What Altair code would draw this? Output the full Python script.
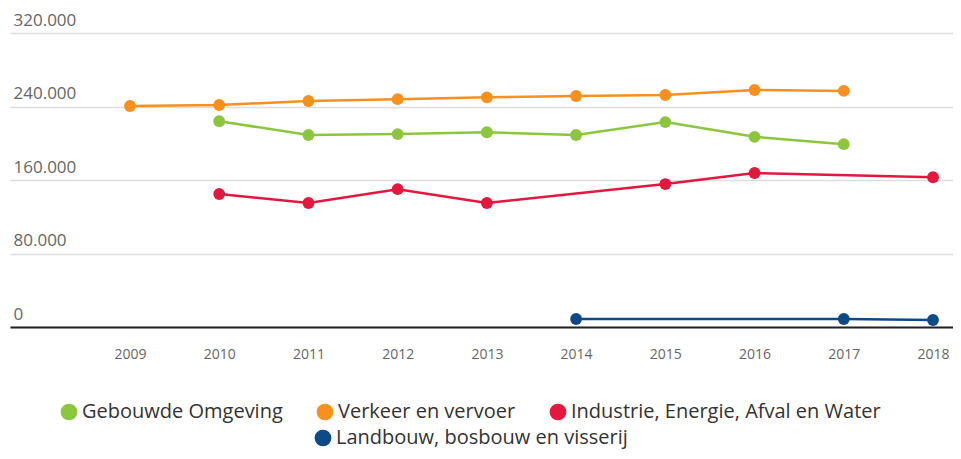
import altair as alt
import pandas as pd

years_all = [2009, 2010, 2011, 2012, 2013, 2014, 2015, 2016, 2017, 2018]

series_names = [
    "Gebouwde Omgeving",
    "Verkeer en vervoer",
    "Industrie, Energie, Afval en Water",
    "Landbouw, bosbouw en visserij",
]
colors = ["#8cc63f", "#f7901e", "#e4173e", "#0d4a87"]

gebouwde_years = [2010, 2011, 2012, 2013, 2014, 2015, 2016, 2017]
gebouwde_vals = [224000, 209000, 210000, 212000, 209000, 223000, 207000, 199000]

verkeer_years = [2009, 2010, 2011, 2012, 2013, 2014, 2015, 2016, 2017]
verkeer_vals = [240500, 241600, 246000, 248000, 250000, 251400, 252500, 258000, 257000]

industrie_years = [2010, 2011, 2012, 2013, 2015, 2016, 2018]
industrie_vals = [144800, 135000, 150000, 135000, 155600, 167600, 163000]

landbouw_years = [2014, 2017, 2018]
landbouw_vals = [8700, 8700, 7600]

rows = []
for name, ys, vs in [
    (series_names[0], gebouwde_years, gebouwde_vals),
    (series_names[1], verkeer_years, verkeer_vals),
    (series_names[2], industrie_years, industrie_vals),
    (series_names[3], landbouw_years, landbouw_vals),
]:
    for y, v in zip(ys, vs):
        rows.append({"serie": name, "jaar": y, "waarde": v})
df = pd.DataFrame(rows)

FONT = "Open Sans"

x_enc = alt.X(
    "jaar:Q",
    scale=alt.Scale(domain=[2007.655, 2018.224], nice=False, zero=False),
    axis=alt.Axis(
        values=years_all, format="d", title=None, grid=False, ticks=False,
        domain=True, domainColor="#222222", domainWidth=2,
        labelPadding=20, labelFontSize=14, labelColor="#666666", labelFont=FONT,
    ),
)
y_enc = alt.Y(
    "waarde:Q",
    scale=alt.Scale(domain=[0, 320000], nice=False),
    axis=alt.Axis(
        values=[0, 80000, 160000, 240000, 320000], format=",d", title=None,
        grid=True, gridColor="#dddddd", gridWidth=1.5, ticks=False, domain=False,
        labelAlign="left", labelBaseline="bottom", labelPadding=-3, labelOffset=-4,
        labelFontSize=17, labelColor="#666666", labelFont=FONT,
    ),
)


def group(names, cols, lx, ly):
    sub = df[df["serie"].isin(names)]
    color = alt.Color(
        "serie:N",
        scale=alt.Scale(domain=names, range=cols),
        sort=names,
        legend=alt.Legend(
            title=None, orient="none", legendX=lx, legendY=ly, direction="horizontal",
            symbolType="circle", symbolSize=280, symbolStrokeWidth=0,
            symbolOpacity=1, labelFontSize=20, labelFont=FONT, labelColor="#333333",
            columnPadding=32, labelOffset=3, labelLimit=400,
        ),
    )
    base = alt.Chart(sub).encode(x=x_enc, y=y_enc, color=color, detail="serie:N")
    pts = base.mark_point(filled=True, size=140, opacity=1)
    line = base.mark_line(strokeWidth=2.5)
    return alt.layer(pts, line)


g1 = group(series_names[:3], colors[:3], 49, 369)
g2 = group(series_names[3:], colors[3:], 303, 395)

chart = (
    alt.layer(g1, g2)
    .resolve_scale(color="independent")
    .properties(
        width=943, height=294,
        autosize=alt.AutoSizeParams(type="none"),
        padding={"left": 2, "top": 25, "right": 0, "bottom": 124},
    )
    .configure(
        locale={"number": {"decimal": ",", "thousands": ".", "grouping": [3], "currency": ["€", ""]}},
        view={"stroke": "transparent", "strokeWidth": 0},
    )
)

chart.save("out.html", embed_options={"renderer": "svg", "actions": False})
